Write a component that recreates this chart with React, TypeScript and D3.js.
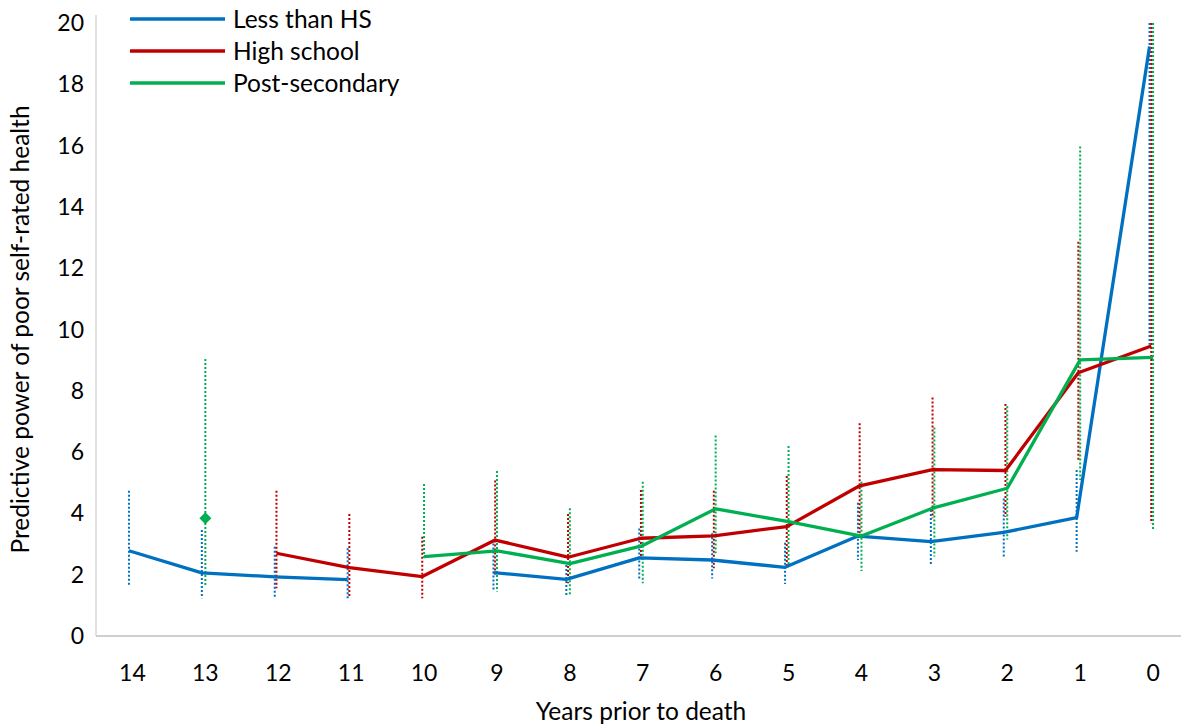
import React from "react";
import * as d3 from "d3";

// Years prior to death (x categories)
const years = ["14", "13", "12", "11", "10", "9", "8", "7", "6", "5", "4", "3", "2", "1", "0"];
const yTicks = [0, 2, 4, 6, 8, 10, 12, 14, 16, 18, 20];

// Point estimates by education group
const lessThanHS = [2.78, 2.06, 1.93, 1.84, null, 2.07, 1.85, 2.55, 2.48, 2.24, 3.26, 3.08, 3.38, 3.86, 19.23];
const highSchool = [null, null, 2.7, 2.23, 1.94, 3.13, 2.57, 3.19, 3.27, 3.57, 4.9, 5.43, 5.4, 8.59, 9.46];
const postSecondary = [null, 3.84, null, null, 2.59, 2.78, 2.36, 2.95, 4.15, 3.73, 3.26, 4.19, 4.82, 9.01, 9.09];

// Confidence intervals (lower / upper)
const lessThanHSLow = [1.61, 1.23, 1.28, 1.17, null, 1.5, 1.34, 1.88, 1.88, 1.7, 2.48, 2.32, 2.59, 2.75, 9.5];
const lessThanHSHigh = [4.74, 3.46, 2.91, 2.86, null, 3.02, 2.32, 3.51, 3.35, 3.04, 4.35, 4.11, 4.49, 5.42, 20];
const highSchoolLow = [null, null, 1.56, 1.28, 1.23, 1.99, 1.72, 2.53, 2.21, 2.3, 3.35, 3.84, 3.89, 5.74, 3.68];
const highSchoolHigh = [null, null, 4.74, 3.98, 3.24, 5.07, 3.98, 4.76, 4.74, 5.22, 6.94, 7.78, 7.57, 12.86, 20];
const postSecondaryLow = [null, 1.66, null, null, 2.5, 1.45, 1.34, 1.72, 2.7, 2.32, 2.12, 2.59, 3.15, 5.09, 3.46];
const postSecondaryHigh = [null, 9.04, null, null, 4.96, 5.38, 4.17, 5.03, 6.54, 6.2, 5.03, 6.8, 7.5, 15.97, 20];

const seriesNames = ["Less than HS", "High school", "Post-secondary"];
const seriesColors = ["#0070C0", "#C00000", "#00B050"];

const FONT = "Lato, 'Open Sans', sans-serif";
const TICK_FS = 23;
const LABEL_FS = 24.5;

export default function App() {
  const width = 1181;
  const height = 726;
  const left = 96;
  const bottom = 636;
  const top = 23;

  const x = d3.scaleBand<string>().domain(years).range([left, left + 72.9 * years.length]);
  const y = d3.scaleLinear().domain([0, 20]).range([bottom, top]);

  const series = [
    { name: seriesNames[0], color: seriesColors[0], values: lessThanHS, low: lessThanHSLow, high: lessThanHSHigh, dx: -3.5 },
    { name: seriesNames[1], color: seriesColors[1], values: highSchool, low: highSchoolLow, high: highSchoolHigh, dx: -1.8 },
    { name: seriesNames[2], color: seriesColors[2], values: postSecondary, low: postSecondaryLow, high: postSecondaryHigh, dx: 0 },
  ];

  const cx = (i: number, dx: number) => (x(years[i]) as number) + x.bandwidth() / 2 + dx;

  return (
    <svg width={width} height={height} style={{ display: "block", position: "absolute", left: 0, top: 0, background: "#fff" }}>
      {/* axes */}
      <line x1={left} x2={left} y1={15} y2={bottom} stroke="#d9d9d9" strokeWidth={1.5} />
      <line x1={left} x2={width} y1={bottom} y2={bottom} stroke="#bfbfbf" strokeWidth={1.5} />

      {yTicks.map((t) => (
        <text key={t} x={84} y={y(t)} dy="0.35em" textAnchor="end" fontFamily={FONT} fontSize={TICK_FS} fill="#000">
          {t}
        </text>
      ))}
      {years.map((c) => (
        <text key={c} x={(x(c) as number) + x.bandwidth() / 2} y={673} dy="0.35em" textAnchor="middle" fontFamily={FONT} fontSize={TICK_FS} fill="#000">
          {c}
        </text>
      ))}
      <text x={641} y={711} dy="0.35em" textAnchor="middle" fontFamily={FONT} fontSize={LABEL_FS} fill="#000">
        Years prior to death
      </text>
      <text
        transform={`translate(20, ${(top + bottom) / 2}) rotate(-90)`}
        dy="0.35em"
        textAnchor="middle"
        fontFamily={FONT}
        fontSize={LABEL_FS}
        fill="#000"
      >
        Predictive power of poor self-rated health
      </text>

      {/* confidence intervals */}
      {series.map((s) => (
        <g key={s.name + "-ci"}>
          {s.low.map((lo, i) => {
            const hi = s.high[i];
            if (lo == null || hi == null) return null;
            const px = cx(i, s.dx);
            return (
              <line
                key={i}
                x1={px}
                x2={px}
                y1={y(hi)}
                y2={y(lo)}
                stroke={s.color}
                strokeWidth={2}
                strokeDasharray="2,2"
              />
            );
          })}
        </g>
      ))}

      {/* estimate lines */}
      {series.map((s) => {
        const line = d3
          .line<number | null>()
          .defined((d) => d != null)
          .x((_, i) => cx(i, s.dx))
          .y((d) => y(d as number));
        return (
          <path key={s.name} d={line(s.values) || ""} fill="none" stroke={s.color} strokeWidth={3.3} strokeLinejoin="round" />
        );
      })}

      {/* isolated estimates shown as markers */}
      {series.map((s) =>
        s.values.map((v, i) => {
          if (v == null) return null;
          const prev = i > 0 ? s.values[i - 1] : null;
          const next = i < s.values.length - 1 ? s.values[i + 1] : null;
          if (prev != null || next != null) return null;
          const px = cx(i, s.dx);
          const py = y(v);
          const r = 6;
          return (
            <path key={s.name + i} d={`M${px},${py - r}L${px + r},${py}L${px},${py + r}L${px - r},${py}Z`} fill={s.color} />
          );
        })
      )}

      {/* legend */}
      {series.map((s, i) => (
        <g key={s.name + "-legend"} transform={`translate(130, ${19 + i * 32})`}>
          <line x1={0} x2={95} y1={0} y2={0} stroke={s.color} strokeWidth={3.3} />
          <text x={103} y={0} dy="0.35em" fontFamily={FONT} fontSize={LABEL_FS} fill="#000">
            {s.name}
          </text>
        </g>
      ))}
    </svg>
  );
}
